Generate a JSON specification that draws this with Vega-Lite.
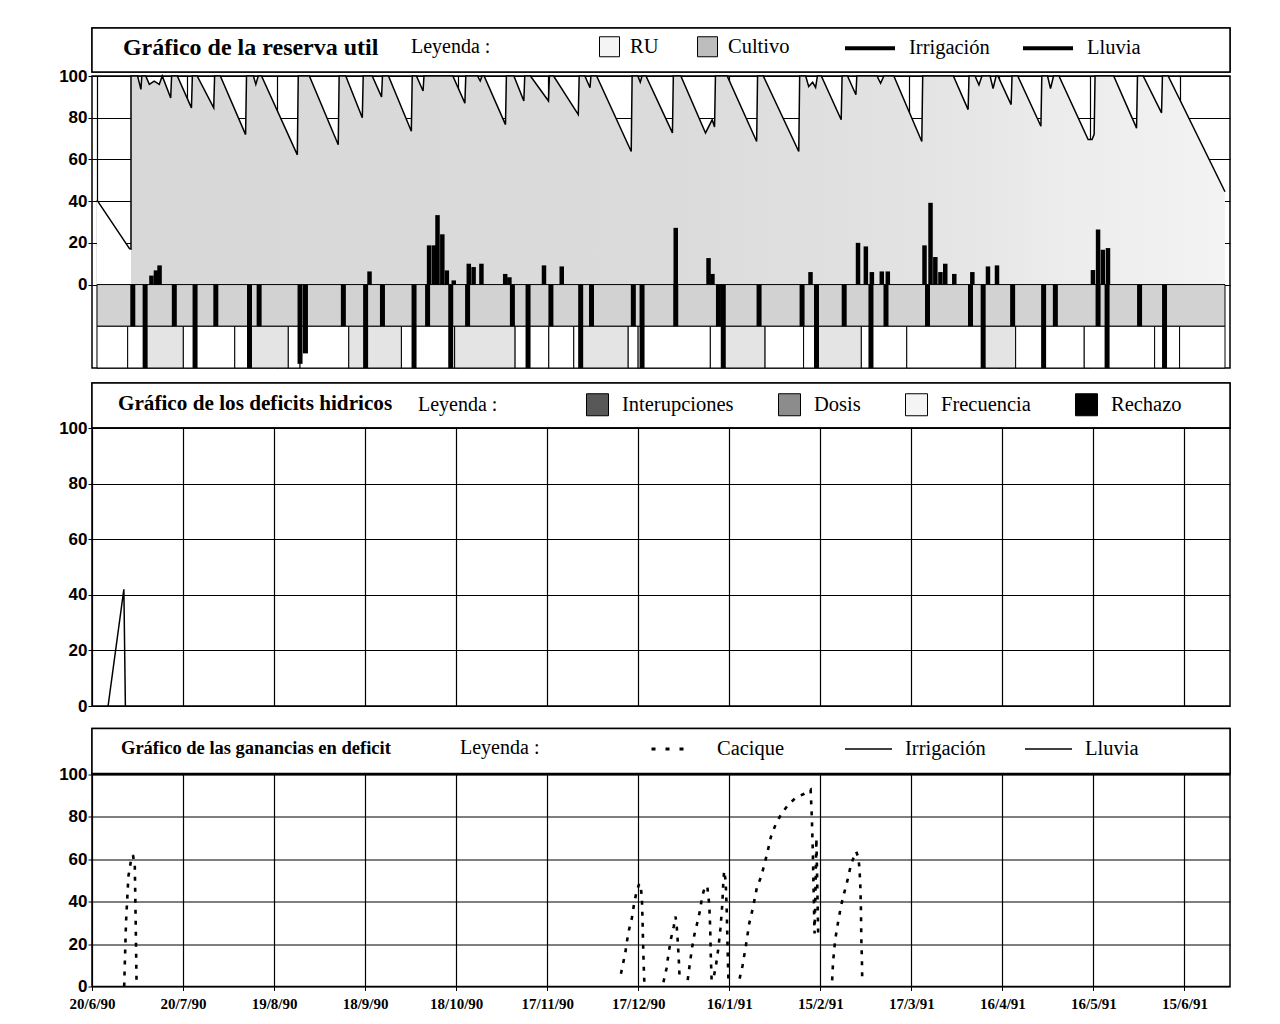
{
  "$schema": "https://vega.github.io/schema/vega-lite/v6.json",
  "background": "white",
  "padding": {"left": 57, "top": 20, "right": 5, "bottom": 5},
  "config": {
    "view": {"stroke": "black", "strokeWidth": 1.5},
    "axis": {"domainColor": "black", "gridColor": "black", "gridOpacity": 1, "gridWidth": 1.2, "tickColor": "black", "labelColor": "black", "labelOverlap": false, "labelFlush": false},
    "legend": {"labelFont": "Liberation Serif", "labelFontSize": 20.5, "labelColor": "black", "titleFont": "Liberation Serif", "titleFontSize": 20, "titleFontWeight": "normal", "titleColor": "black", "labelLimit": 400, "titleLimit": 400}
  },
  "datasets": {
    "ru": [
      {"dia": 0, "ru": 40.5, "fase": "pre"},
      {"dia": 10.8, "ru": 17.2, "fase": "pre"},
      {"dia": 11.3, "ru": 17, "fase": "pre"},
      {"dia": 11.3, "ru": 100, "fase": "cultivo"},
      {"dia": 13.5, "ru": 100, "fase": "cultivo"},
      {"dia": 14.6, "ru": 93.6, "fase": "cultivo"},
      {"dia": 14.9, "ru": 100, "fase": "cultivo"},
      {"dia": 16.2, "ru": 100, "fase": "cultivo"},
      {"dia": 17.4, "ru": 96, "fase": "cultivo"},
      {"dia": 19.0, "ru": 97.5, "fase": "cultivo"},
      {"dia": 20.7, "ru": 96, "fase": "cultivo"},
      {"dia": 21.7, "ru": 100, "fase": "cultivo"},
      {"dia": 24.5, "ru": 89.5, "fase": "cultivo"},
      {"dia": 24.8, "ru": 100, "fase": "cultivo"},
      {"dia": 26.7, "ru": 100, "fase": "cultivo"},
      {"dia": 31.4, "ru": 84.7, "fase": "cultivo"},
      {"dia": 31.7, "ru": 100, "fase": "cultivo"},
      {"dia": 33.3, "ru": 100, "fase": "cultivo"},
      {"dia": 38.8, "ru": 84.7, "fase": "cultivo"},
      {"dia": 39.1, "ru": 100, "fase": "cultivo"},
      {"dia": 41.0, "ru": 100, "fase": "cultivo"},
      {"dia": 49.4, "ru": 71.9, "fase": "cultivo"},
      {"dia": 49.7, "ru": 100, "fase": "cultivo"},
      {"dia": 52.0, "ru": 100, "fase": "cultivo"},
      {"dia": 52.8, "ru": 96, "fase": "cultivo"},
      {"dia": 53.6, "ru": 100, "fase": "cultivo"},
      {"dia": 54.7, "ru": 100, "fase": "cultivo"},
      {"dia": 66.6, "ru": 62.2, "fase": "cultivo"},
      {"dia": 66.9, "ru": 100, "fase": "cultivo"},
      {"dia": 70.6, "ru": 100, "fase": "cultivo"},
      {"dia": 80.2, "ru": 67, "fase": "cultivo"},
      {"dia": 80.5, "ru": 100, "fase": "cultivo"},
      {"dia": 82.7, "ru": 100, "fase": "cultivo"},
      {"dia": 88.2, "ru": 80, "fase": "cultivo"},
      {"dia": 88.5, "ru": 100, "fase": "cultivo"},
      {"dia": 91.5, "ru": 100, "fase": "cultivo"},
      {"dia": 94.6, "ru": 90, "fase": "cultivo"},
      {"dia": 94.9, "ru": 100, "fase": "cultivo"},
      {"dia": 96.9, "ru": 100, "fase": "cultivo"},
      {"dia": 104.5, "ru": 73.5, "fase": "cultivo"},
      {"dia": 104.8, "ru": 100, "fase": "cultivo"},
      {"dia": 106.2, "ru": 100, "fase": "cultivo"},
      {"dia": 108.4, "ru": 92.8, "fase": "cultivo"},
      {"dia": 108.7, "ru": 100, "fase": "cultivo"},
      {"dia": 118.3, "ru": 100, "fase": "cultivo"},
      {"dia": 122.3, "ru": 87, "fase": "cultivo"},
      {"dia": 122.6, "ru": 100, "fase": "cultivo"},
      {"dia": 126.5, "ru": 100, "fase": "cultivo"},
      {"dia": 127.4, "ru": 97.6, "fase": "cultivo"},
      {"dia": 128.0, "ru": 100, "fase": "cultivo"},
      {"dia": 128.7, "ru": 100, "fase": "cultivo"},
      {"dia": 135.8, "ru": 76.7, "fase": "cultivo"},
      {"dia": 136.1, "ru": 100, "fase": "cultivo"},
      {"dia": 138.6, "ru": 100, "fase": "cultivo"},
      {"dia": 141.9, "ru": 88, "fase": "cultivo"},
      {"dia": 142.2, "ru": 100, "fase": "cultivo"},
      {"dia": 144.1, "ru": 100, "fase": "cultivo"},
      {"dia": 150.1, "ru": 88, "fase": "cultivo"},
      {"dia": 150.4, "ru": 100, "fase": "cultivo"},
      {"dia": 151.8, "ru": 100, "fase": "cultivo"},
      {"dia": 160.0, "ru": 81.5, "fase": "cultivo"},
      {"dia": 160.3, "ru": 100, "fase": "cultivo"},
      {"dia": 162.2, "ru": 100, "fase": "cultivo"},
      {"dia": 163.9, "ru": 94.4, "fase": "cultivo"},
      {"dia": 164.2, "ru": 100, "fase": "cultivo"},
      {"dia": 166.1, "ru": 100, "fase": "cultivo"},
      {"dia": 177.6, "ru": 63.8, "fase": "cultivo"},
      {"dia": 177.9, "ru": 100, "fase": "cultivo"},
      {"dia": 179.8, "ru": 100, "fase": "cultivo"},
      {"dia": 180.6, "ru": 97, "fase": "cultivo"},
      {"dia": 181.2, "ru": 100, "fase": "cultivo"},
      {"dia": 182.5, "ru": 100, "fase": "cultivo"},
      {"dia": 191.3, "ru": 72.7, "fase": "cultivo"},
      {"dia": 191.6, "ru": 100, "fase": "cultivo"},
      {"dia": 194.1, "ru": 100, "fase": "cultivo"},
      {"dia": 202.3, "ru": 72.7, "fase": "cultivo"},
      {"dia": 204.5, "ru": 79, "fase": "cultivo"},
      {"dia": 205.3, "ru": 75.5, "fase": "cultivo"},
      {"dia": 205.6, "ru": 100, "fase": "cultivo"},
      {"dia": 209.5, "ru": 100, "fase": "cultivo"},
      {"dia": 219.3, "ru": 68.6, "fase": "cultivo"},
      {"dia": 219.6, "ru": 100, "fase": "cultivo"},
      {"dia": 221.5, "ru": 100, "fase": "cultivo"},
      {"dia": 233.3, "ru": 63.8, "fase": "cultivo"},
      {"dia": 233.6, "ru": 100, "fase": "cultivo"},
      {"dia": 235.6, "ru": 100, "fase": "cultivo"},
      {"dia": 236.6, "ru": 95, "fase": "cultivo"},
      {"dia": 237.9, "ru": 97, "fase": "cultivo"},
      {"dia": 238.9, "ru": 94.5, "fase": "cultivo"},
      {"dia": 239.5, "ru": 100, "fase": "cultivo"},
      {"dia": 240.8, "ru": 100, "fase": "cultivo"},
      {"dia": 247.4, "ru": 79, "fase": "cultivo"},
      {"dia": 247.7, "ru": 100, "fase": "cultivo"},
      {"dia": 249.5, "ru": 100, "fase": "cultivo"},
      {"dia": 252.3, "ru": 91, "fase": "cultivo"},
      {"dia": 252.6, "ru": 100, "fase": "cultivo"},
      {"dia": 259.3, "ru": 100, "fase": "cultivo"},
      {"dia": 260.5, "ru": 96.5, "fase": "cultivo"},
      {"dia": 261.6, "ru": 100, "fase": "cultivo"},
      {"dia": 264.9, "ru": 100, "fase": "cultivo"},
      {"dia": 274.2, "ru": 68.6, "fase": "cultivo"},
      {"dia": 274.5, "ru": 100, "fase": "cultivo"},
      {"dia": 284.7, "ru": 100, "fase": "cultivo"},
      {"dia": 289.6, "ru": 83.9, "fase": "cultivo"},
      {"dia": 289.9, "ru": 100, "fase": "cultivo"},
      {"dia": 291.9, "ru": 100, "fase": "cultivo"},
      {"dia": 293.2, "ru": 95.7, "fase": "cultivo"},
      {"dia": 294.2, "ru": 100, "fase": "cultivo"},
      {"dia": 296.9, "ru": 100, "fase": "cultivo"},
      {"dia": 297.9, "ru": 94, "fase": "cultivo"},
      {"dia": 298.9, "ru": 100, "fase": "cultivo"},
      {"dia": 299.5, "ru": 100, "fase": "cultivo"},
      {"dia": 303.9, "ru": 86.3, "fase": "cultivo"},
      {"dia": 304.2, "ru": 100, "fase": "cultivo"},
      {"dia": 306.1, "ru": 100, "fase": "cultivo"},
      {"dia": 313.8, "ru": 75.9, "fase": "cultivo"},
      {"dia": 314.1, "ru": 100, "fase": "cultivo"},
      {"dia": 316.0, "ru": 100, "fase": "cultivo"},
      {"dia": 317.0, "ru": 94, "fase": "cultivo"},
      {"dia": 318.0, "ru": 100, "fase": "cultivo"},
      {"dia": 319.8, "ru": 100, "fase": "cultivo"},
      {"dia": 329.5, "ru": 69.5, "fase": "cultivo"},
      {"dia": 330.8, "ru": 69.5, "fase": "cultivo"},
      {"dia": 331.5, "ru": 72, "fase": "cultivo"},
      {"dia": 331.8, "ru": 100, "fase": "cultivo"},
      {"dia": 338.0, "ru": 100, "fase": "cultivo"},
      {"dia": 345.6, "ru": 75, "fase": "cultivo"},
      {"dia": 345.9, "ru": 100, "fase": "cultivo"},
      {"dia": 347.8, "ru": 100, "fase": "cultivo"},
      {"dia": 353.9, "ru": 82.3, "fase": "cultivo"},
      {"dia": 354.2, "ru": 100, "fase": "cultivo"},
      {"dia": 356.1, "ru": 100, "fase": "cultivo"},
      {"dia": 375, "ru": 44.5, "fase": "cultivo"}
    ],
    "lluvia": [
      {"dia": 18.1, "mm": 4.3}, {"dia": 19.6, "mm": 6.8}, {"dia": 20.8, "mm": 9.2},
      {"dia": 90.6, "mm": 6.3},
      {"dia": 110.4, "mm": 18.8}, {"dia": 112.0, "mm": 18.8}, {"dia": 113.2, "mm": 33.3}, {"dia": 114.8, "mm": 24.1}, {"dia": 116.3, "mm": 6.8}, {"dia": 118.6, "mm": 2},
      {"dia": 123.6, "mm": 10}, {"dia": 125.2, "mm": 8.4}, {"dia": 127.8, "mm": 10},
      {"dia": 135.7, "mm": 5.1}, {"dia": 137.1, "mm": 3.5},
      {"dia": 148.6, "mm": 9.2}, {"dia": 154.5, "mm": 8.7},
      {"dia": 192.4, "mm": 27.2}, {"dia": 203.3, "mm": 12.7}, {"dia": 204.6, "mm": 5.1},
      {"dia": 237.2, "mm": 6},
      {"dia": 253.0, "mm": 20}, {"dia": 255.6, "mm": 18.3}, {"dia": 257.6, "mm": 6}, {"dia": 260.9, "mm": 6.3}, {"dia": 262.9, "mm": 6.3},
      {"dia": 275.1, "mm": 18.8}, {"dia": 277.1, "mm": 39.2}, {"dia": 278.7, "mm": 13.2}, {"dia": 280.4, "mm": 6}, {"dia": 282.0, "mm": 10}, {"dia": 285.0, "mm": 5.1},
      {"dia": 291.0, "mm": 6}, {"dia": 296.2, "mm": 8.7}, {"dia": 299.2, "mm": 9.2},
      {"dia": 331.1, "mm": 7}, {"dia": 332.8, "mm": 26.4}, {"dia": 334.4, "mm": 16.7}, {"dia": 336.1, "mm": 17.5}
    ],
    "riego": [
      {"dia": 11.9, "nivel": -20}, {"dia": 16.0, "nivel": -40}, {"dia": 25.7, "nivel": -20}, {"dia": 32.6, "nivel": -40},
      {"dia": 39.5, "nivel": -20}, {"dia": 50.7, "nivel": -40}, {"dia": 53.9, "nivel": -20}, {"dia": 67.5, "nivel": -38},
      {"dia": 69.3, "nivel": -33}, {"dia": 81.9, "nivel": -20}, {"dia": 89.3, "nivel": -40}, {"dia": 94.9, "nivel": -20},
      {"dia": 105.4, "nivel": -40}, {"dia": 109.9, "nivel": -20}, {"dia": 117.6, "nivel": -40}, {"dia": 123.2, "nivel": -20},
      {"dia": 138.1, "nivel": -20}, {"dia": 143.3, "nivel": -40}, {"dia": 150.9, "nivel": -20}, {"dia": 160.8, "nivel": -40},
      {"dia": 164.4, "nivel": -20}, {"dia": 178.3, "nivel": -20}, {"dia": 181.2, "nivel": -40}, {"dia": 192.4, "nivel": -20},
      {"dia": 206.6, "nivel": -20}, {"dia": 208.2, "nivel": -40}, {"dia": 220.1, "nivel": -20}, {"dia": 234.4, "nivel": -20},
      {"dia": 239.2, "nivel": -40}, {"dia": 248.4, "nivel": -20}, {"dia": 257.3, "nivel": -40}, {"dia": 262.3, "nivel": -20},
      {"dia": 276.1, "nivel": -20}, {"dia": 290.4, "nivel": -20}, {"dia": 294.6, "nivel": -40}, {"dia": 304.4, "nivel": -20},
      {"dia": 314.7, "nivel": -40}, {"dia": 318.6, "nivel": -20}, {"dia": 332.8, "nivel": -20}, {"dia": 335.8, "nivel": -40},
      {"dia": 346.6, "nivel": -20}, {"dia": 354.9, "nivel": -40}
    ],
    "franja": [{"desde": 0, "hasta": 375}],
    "tramos": [
      {"desde": 0, "hasta": 10.2, "tipo": "b"}, {"desde": 10.2, "hasta": 16.0, "tipo": "b"}, {"desde": 16.0, "hasta": 28.7, "tipo": "p"},
      {"desde": 28.7, "hasta": 32.6, "tipo": "b"}, {"desde": 32.6, "hasta": 45.8, "tipo": "b"}, {"desde": 45.8, "hasta": 50.7, "tipo": "b"},
      {"desde": 50.7, "hasta": 63.6, "tipo": "p"}, {"desde": 63.6, "hasta": 67.5, "tipo": "b"}, {"desde": 67.5, "hasta": 83.7, "tipo": "b"},
      {"desde": 83.7, "hasta": 89.3, "tipo": "p"}, {"desde": 89.3, "hasta": 101.2, "tipo": "p"}, {"desde": 101.2, "hasta": 105.4, "tipo": "b"},
      {"desde": 105.4, "hasta": 117.6, "tipo": "b"}, {"desde": 117.6, "hasta": 118.9, "tipo": "b"}, {"desde": 118.9, "hasta": 139.0, "tipo": "p"},
      {"desde": 139.0, "hasta": 143.3, "tipo": "b"}, {"desde": 143.3, "hasta": 150.2, "tipo": "b"}, {"desde": 150.2, "hasta": 158.5, "tipo": "b"},
      {"desde": 158.5, "hasta": 160.8, "tipo": "b"}, {"desde": 160.8, "hasta": 176.6, "tipo": "p"}, {"desde": 176.6, "hasta": 179.9, "tipo": "b"},
      {"desde": 179.9, "hasta": 181.2, "tipo": "b"}, {"desde": 181.2, "hasta": 203.9, "tipo": "b"}, {"desde": 203.9, "hasta": 208.2, "tipo": "b"},
      {"desde": 208.2, "hasta": 222.1, "tipo": "p"}, {"desde": 222.1, "hasta": 234.9, "tipo": "b"}, {"desde": 234.9, "hasta": 239.2, "tipo": "b"},
      {"desde": 239.2, "hasta": 254.1, "tipo": "p"}, {"desde": 254.1, "hasta": 257.3, "tipo": "b"}, {"desde": 257.3, "hasta": 269.2, "tipo": "b"},
      {"desde": 269.2, "hasta": 294.6, "tipo": "b"}, {"desde": 294.6, "hasta": 305.4, "tipo": "p"}, {"desde": 305.4, "hasta": 314.7, "tipo": "b"},
      {"desde": 314.7, "hasta": 328.2, "tipo": "b"}, {"desde": 328.2, "hasta": 335.8, "tipo": "b"}, {"desde": 335.8, "hasta": 351.6, "tipo": "b"},
      {"desde": 351.6, "hasta": 354.9, "tipo": "b"}, {"desde": 354.9, "hasta": 359.9, "tipo": "b"}, {"desde": 359.9, "hasta": 375, "tipo": "b"}
    ],
    "deficit": [
      {"dia": 5.3, "valor": 0}, {"dia": 10.5, "valor": 42}, {"dia": 11.0, "valor": 0}
    ],
    "ganancia": [
      {"dia": 10.6, "valor": 0, "tramo": 1}, {"dia": 11.2, "valor": 30, "tramo": 1}, {"dia": 12.0, "valor": 52, "tramo": 1}, {"dia": 12.8, "valor": 59, "tramo": 1},
      {"dia": 13.5, "valor": 62, "tramo": 1}, {"dia": 14.1, "valor": 57, "tramo": 1}, {"dia": 14.4, "valor": 30, "tramo": 1}, {"dia": 14.7, "valor": 0, "tramo": 1},
      {"dia": 174.3, "valor": 6, "tramo": 2}, {"dia": 175.7, "valor": 15.6, "tramo": 2}, {"dia": 176.7, "valor": 25.2, "tramo": 2}, {"dia": 177.9, "valor": 32.3, "tramo": 2},
      {"dia": 178.6, "valor": 38.7, "tramo": 2}, {"dia": 179.3, "valor": 43.8, "tramo": 2}, {"dia": 180.2, "valor": 48, "tramo": 2}, {"dia": 180.7, "valor": 48.5, "tramo": 2},
      {"dia": 181.2, "valor": 42, "tramo": 2}, {"dia": 181.4, "valor": 32, "tramo": 2}, {"dia": 181.6, "valor": 20, "tramo": 2}, {"dia": 181.8, "valor": 10, "tramo": 2},
      {"dia": 182.0, "valor": 2, "tramo": 2},
      {"dia": 188.3, "valor": 2, "tramo": 3}, {"dia": 189.3, "valor": 8.4, "tramo": 3}, {"dia": 190.0, "valor": 15.6, "tramo": 3}, {"dia": 190.7, "valor": 22, "tramo": 3},
      {"dia": 191.7, "valor": 28.3, "tramo": 3}, {"dia": 192.3, "valor": 33, "tramo": 3}, {"dia": 192.7, "valor": 28, "tramo": 3}, {"dia": 193.1, "valor": 19.6, "tramo": 3},
      {"dia": 193.4, "valor": 11.6, "tramo": 3}, {"dia": 193.6, "valor": 5, "tramo": 3},
      {"dia": 196.3, "valor": 3, "tramo": 4}, {"dia": 197.0, "valor": 10.8, "tramo": 4}, {"dia": 197.8, "valor": 18.8, "tramo": 4}, {"dia": 198.5, "valor": 24.4, "tramo": 4},
      {"dia": 199.3, "valor": 29.1, "tramo": 4}, {"dia": 200.3, "valor": 35.5, "tramo": 4}, {"dia": 201.1, "valor": 42.7, "tramo": 4}, {"dia": 202.1, "valor": 47.5, "tramo": 4},
      {"dia": 202.8, "valor": 46.7, "tramo": 4}, {"dia": 203.4, "valor": 38.7, "tramo": 4}, {"dia": 203.7, "valor": 28, "tramo": 4}, {"dia": 203.9, "valor": 15, "tramo": 4},
      {"dia": 204.2, "valor": 2, "tramo": 4},
      {"dia": 205.0, "valor": 5.3, "tramo": 5}, {"dia": 205.7, "valor": 10.8, "tramo": 5}, {"dia": 206.4, "valor": 18, "tramo": 5}, {"dia": 207.1, "valor": 27.5, "tramo": 5},
      {"dia": 207.7, "valor": 38.7, "tramo": 5}, {"dia": 208.0, "valor": 48.2, "tramo": 5}, {"dia": 208.3, "valor": 54.6, "tramo": 5}, {"dia": 208.8, "valor": 50, "tramo": 5},
      {"dia": 209.1, "valor": 38.7, "tramo": 5}, {"dia": 209.3, "valor": 27.5, "tramo": 5}, {"dia": 209.5, "valor": 15, "tramo": 5}, {"dia": 209.7, "valor": 3.7, "tramo": 5},
      {"dia": 213.4, "valor": 3.7, "tramo": 6}, {"dia": 214.4, "valor": 10, "tramo": 6}, {"dia": 215.5, "valor": 19.6, "tramo": 6}, {"dia": 216.6, "valor": 29.9, "tramo": 6},
      {"dia": 217.8, "valor": 37.1, "tramo": 6}, {"dia": 219.1, "valor": 46.7, "tramo": 6}, {"dia": 220.5, "valor": 51.8, "tramo": 6}, {"dia": 221.6, "valor": 57.8, "tramo": 6},
      {"dia": 222.6, "valor": 63.4, "tramo": 6}, {"dia": 223.7, "valor": 70.5, "tramo": 6}, {"dia": 225.4, "valor": 76.9, "tramo": 6}, {"dia": 227.3, "valor": 81.7, "tramo": 6},
      {"dia": 229.4, "valor": 85.7, "tramo": 6}, {"dia": 231.8, "valor": 88.9, "tramo": 6}, {"dia": 234.7, "valor": 90.9, "tramo": 6}, {"dia": 236.8, "valor": 92.8, "tramo": 6},
      {"dia": 237.2, "valor": 80, "tramo": 6}, {"dia": 237.5, "valor": 65, "tramo": 6}, {"dia": 237.8, "valor": 45, "tramo": 6}, {"dia": 238.1, "valor": 25, "tramo": 6},
      {"dia": 238.4, "valor": 45, "tramo": 6}, {"dia": 238.7, "valor": 70, "tramo": 6}, {"dia": 239.0, "valor": 48, "tramo": 6}, {"dia": 239.3, "valor": 24, "tramo": 6},
      {"dia": 243.9, "valor": 2.9, "tramo": 7}, {"dia": 244.2, "valor": 11.6, "tramo": 7}, {"dia": 244.9, "valor": 22, "tramo": 7}, {"dia": 245.8, "valor": 29.9, "tramo": 7},
      {"dia": 246.8, "valor": 37.9, "tramo": 7}, {"dia": 247.9, "valor": 44.3, "tramo": 7}, {"dia": 248.9, "valor": 49.8, "tramo": 7}, {"dia": 249.9, "valor": 56.2, "tramo": 7},
      {"dia": 250.8, "valor": 60.2, "tramo": 7}, {"dia": 251.8, "valor": 63.7, "tramo": 7}, {"dia": 252.5, "valor": 61, "tramo": 7}, {"dia": 252.9, "valor": 56, "tramo": 7},
      {"dia": 253.2, "valor": 46.7, "tramo": 7}, {"dia": 253.4, "valor": 35.5, "tramo": 7}, {"dia": 253.5, "valor": 22.8, "tramo": 7}, {"dia": 253.7, "valor": 13.2, "tramo": 7},
      {"dia": 253.8, "valor": 4, "tramo": 7}
    ]
  },
  "spacing": 8.5,
  "resolve": {"scale": {"fill": "independent", "stroke": "independent", "strokeDash": "independent", "x": "independent", "y": "independent"}, "legend": {"fill": "independent", "stroke": "independent", "strokeDash": "independent"}},
  "vconcat": [
    {
      "spacing": 11,
      "resolve": {"scale": {"fill": "independent", "stroke": "independent", "x": "independent", "y": "independent"}, "legend": {"fill": "independent", "stroke": "independent"}},
      "vconcat": [
        {
          "bounds": "flush",
          "spacing": 4,
          "resolve": {"scale": {"fill": "independent", "stroke": "independent", "x": "independent", "y": "independent"}, "legend": {"fill": "independent", "stroke": "independent"}},
          "vconcat": [
            {
              "width": 1138, "height": 44,
              "data": {"values": [{"titulo": "Gráfico de la reserva util"}]},
              "layer": [
                {"mark": {"type": "rect", "fill": "white", "stroke": "black", "strokeWidth": 1.5},
                 "encoding": {
                   "x": {"datum": 0, "type": "quantitative", "scale": {"domain": [0, 1], "nice": false, "zero": false}, "axis": null},
                   "x2": {"datum": 1},
                   "y": {"datum": 0, "type": "quantitative", "scale": {"domain": [0, 1], "nice": false, "zero": false}, "axis": null},
                   "y2": {"datum": 1}}},
                {"mark": {"type": "text", "align": "left", "baseline": "middle", "font": "Liberation Serif", "fontWeight": "bold", "fontSize": 24, "color": "black"},
                 "encoding": {
                   "text": {"field": "titulo"},
                   "x": {"datum": 0.0272, "type": "quantitative"},
                   "y": {"datum": 0.545, "type": "quantitative"}}},
                {"transform": [{"filter": "false"}],
                 "mark": {"type": "square", "filled": true, "opacity": 1},
                 "encoding": {"fill": {"field": "serie", "type": "nominal",
                   "scale": {"domain": ["RU", "Cultivo"], "range": ["#f4f4f4", "#bdbdbd"]},
                   "legend": {"title": "Leyenda :", "orient": "none", "legendX": 319, "legendY": 8, "direction": "horizontal", "titleOrient": "left", "titlePadding": 108, "symbolType": "square", "symbolSize": 400, "symbolOpacity": 1, "symbolStrokeColor": "black", "symbolStrokeWidth": 1, "labelOffset": 10, "columnPadding": 36}}}},
                {"transform": [{"filter": "false"}],
                 "mark": {"type": "rule", "opacity": 1},
                 "encoding": {"stroke": {"field": "aporte", "type": "nominal",
                   "scale": {"domain": ["Irrigación", "Lluvia"], "range": ["black", "black"]},
                   "legend": {"title": null, "orient": "none", "legendX": 751, "legendY": -7, "direction": "horizontal", "symbolType": "stroke", "symbolSize": 2500, "symbolStrokeWidth": 4, "labelOffset": 12, "columnPadding": 25}}}}
              ]
            },
            {
              "width": 1138, "height": 292,
              "layer": [
                {"data": {"name": "ru"}, "transform": [{"filter": "datum.fase == 'pre'"}],
                 "mark": {"type": "area", "color": "white", "opacity": 1},
                 "encoding": {
                   "x": {"field": "dia", "type": "quantitative", "scale": {"domain": [0, 375], "nice": false, "zero": false},
                         "axis": {"values": [0, 30, 60, 90, 120, 150, 180, 210, 240, 270, 300, 330, 360], "labels": false, "ticks": false, "domain": false, "grid": true, "title": null}},
                   "y": {"field": "ru", "type": "quantitative", "scale": {"domain": [-40, 100], "nice": false},
                         "axis": {"values": [0, 20, 40, 60, 80, 100], "grid": true, "domain": false, "title": null, "tickSize": 4, "labelPadding": 1, "labelFont": "Liberation Sans", "labelFontWeight": "bold", "labelFontSize": 17}},
                   "y2": {"datum": 0},
                   "order": {"value": null}}},
                {"data": {"name": "ru"}, "transform": [{"filter": "datum.fase == 'cultivo'"}],
                 "mark": {"type": "area", "opacity": 1, "color": {"gradient": "linear", "x1": 0, "y1": 0, "x2": 1, "y2": 0,
                   "stops": [{"offset": 0, "color": "#d8d8d8"}, {"offset": 0.5, "color": "#dbdbdb"}, {"offset": 0.72, "color": "#e3e3e3"}, {"offset": 0.85, "color": "#ececec"}, {"offset": 1, "color": "#f3f3f3"}]}},
                 "encoding": {
                   "x": {"field": "dia", "type": "quantitative", "scale": {"domain": [0, 375], "nice": false, "zero": false}},
                   "y": {"field": "ru", "type": "quantitative", "scale": {"domain": [-40, 100], "nice": false}},
                   "y2": {"datum": 0},
                   "order": {"value": null}}},
                {"data": {"name": "ru"},
                 "mark": {"type": "line", "color": "black", "strokeWidth": 1.5},
                 "encoding": {
                   "x": {"field": "dia", "type": "quantitative"},
                   "y": {"field": "ru", "type": "quantitative"},
                   "order": {"value": null}}},
                {"data": {"name": "franja"},
                 "mark": {"type": "rect", "fill": "#d2d2d2", "stroke": "black", "strokeWidth": 1},
                 "encoding": {
                   "x": {"field": "desde", "type": "quantitative"},
                   "x2": {"field": "hasta"},
                   "y": {"datum": 0},
                   "y2": {"datum": -20}}},
                {"data": {"name": "tramos"},
                 "mark": {"type": "rect", "stroke": "black", "strokeWidth": 1},
                 "encoding": {
                   "x": {"field": "desde", "type": "quantitative"},
                   "x2": {"field": "hasta"},
                   "y": {"datum": -20},
                   "y2": {"datum": -40},
                   "fill": {"condition": {"test": "datum.tipo == 'p'", "value": "#e4e4e4"}, "value": "white"}}},
                {"data": {"name": "lluvia"},
                 "mark": {"type": "bar", "color": "black", "width": 4.5},
                 "encoding": {
                   "x": {"field": "dia", "type": "quantitative"},
                   "y": {"field": "mm", "type": "quantitative"}}},
                {"data": {"name": "riego"},
                 "mark": {"type": "bar", "color": "black", "width": 5},
                 "encoding": {
                   "x": {"field": "dia", "type": "quantitative"},
                   "y": {"field": "nivel", "type": "quantitative"}}}
              ]
            }
          ]
        },
        {
          "bounds": "flush",
          "spacing": 0,
          "resolve": {"scale": {"fill": "independent", "x": "independent", "y": "independent"}, "legend": {"fill": "independent"}},
          "vconcat": [
            {
              "width": 1138, "height": 45,
              "data": {"values": [{"titulo": "Gráfico de los deficits hidricos"}]},
              "layer": [
                {"mark": {"type": "rect", "fill": "white", "stroke": "black", "strokeWidth": 1.5},
                 "encoding": {
                   "x": {"datum": 0, "type": "quantitative", "scale": {"domain": [0, 1], "nice": false, "zero": false}, "axis": null},
                   "x2": {"datum": 1},
                   "y": {"datum": 0, "type": "quantitative", "scale": {"domain": [0, 1], "nice": false, "zero": false}, "axis": null},
                   "y2": {"datum": 1}}},
                {"mark": {"type": "text", "align": "left", "baseline": "middle", "font": "Liberation Serif", "fontWeight": "bold", "fontSize": 21.2, "color": "black"},
                 "encoding": {
                   "text": {"field": "titulo"},
                   "x": {"datum": 0.0228, "type": "quantitative"},
                   "y": {"datum": 0.533, "type": "quantitative"}}},
                {"transform": [{"filter": "false"}],
                 "mark": {"type": "square", "filled": true, "opacity": 1},
                 "encoding": {"fill": {"field": "deficit", "type": "nominal",
                   "scale": {"domain": ["Interupciones", "Dosis", "Frecuencia", "Rechazo"], "range": ["#585858", "#8c8c8c", "#f4f4f4", "black"]},
                   "legend": {"title": "Leyenda :", "orient": "none", "legendX": 326, "legendY": 10, "direction": "horizontal", "titleOrient": "left", "titlePadding": 88, "symbolType": "square", "symbolSize": 484, "symbolOpacity": 1, "symbolStrokeColor": "black", "symbolStrokeWidth": 1, "labelOffset": 13, "columnPadding": 42}}}}
              ]
            },
            {
              "width": 1138, "height": 278,
              "data": {"name": "deficit"},
              "mark": {"type": "line", "color": "black", "strokeWidth": 1.5},
              "encoding": {
                "x": {"field": "dia", "type": "quantitative", "scale": {"domain": [0, 375], "nice": false, "zero": false},
                      "axis": {"values": [0, 30, 60, 90, 120, 150, 180, 210, 240, 270, 300, 330, 360], "labels": false, "ticks": false, "domain": false, "grid": true, "title": null}},
                "y": {"field": "valor", "type": "quantitative", "scale": {"domain": [0, 100], "nice": false},
                      "axis": {"values": [0, 20, 40, 60, 80, 100], "grid": true, "domain": false, "title": null, "tickSize": 4, "labelPadding": 1, "labelFont": "Liberation Sans", "labelFontWeight": "bold", "labelFontSize": 17}},
                "order": {"value": null}}
            }
          ]
        }
      ]
    },
    {
      "bounds": "flush",
      "spacing": 1,
      "resolve": {"scale": {"stroke": "independent", "strokeDash": "independent", "x": "independent", "y": "independent"}, "legend": {"stroke": "independent", "strokeDash": "independent"}},
      "vconcat": [
        {
          "width": 1138, "height": 45,
          "data": {"values": [{"titulo": "Gráfico de las ganancias en deficit", "leyenda": "Leyenda :"}]},
          "layer": [
            {"mark": {"type": "rect", "fill": "white", "stroke": "black", "strokeWidth": 1.5},
             "encoding": {
               "x": {"datum": 0, "type": "quantitative", "scale": {"domain": [0, 1], "nice": false, "zero": false}, "axis": null},
               "x2": {"datum": 1},
               "y": {"datum": 0, "type": "quantitative", "scale": {"domain": [0, 1], "nice": false, "zero": false}, "axis": null},
               "y2": {"datum": 1}}},
            {"mark": {"type": "text", "align": "left", "baseline": "middle", "font": "Liberation Serif", "fontWeight": "bold", "fontSize": 18.5, "color": "black"},
             "encoding": {
               "text": {"field": "titulo"},
               "x": {"datum": 0.0255, "type": "quantitative"},
               "y": {"datum": 0.556, "type": "quantitative"}}},
            {"mark": {"type": "text", "align": "left", "baseline": "middle", "font": "Liberation Serif", "fontWeight": "normal", "fontSize": 20, "color": "black"},
             "encoding": {
               "text": {"field": "leyenda"},
               "x": {"datum": 0.3234, "type": "quantitative"},
               "y": {"datum": 0.556, "type": "quantitative"}}},
            {"transform": [{"filter": "false"}],
             "mark": {"type": "rule", "opacity": 1},
             "encoding": {"strokeDash": {"field": "serie", "type": "nominal",
               "scale": {"domain": ["Cacique"], "range": [[4, 10]]},
               "legend": {"title": null, "orient": "none", "legendX": 558, "legendY": -1, "direction": "horizontal", "symbolType": "stroke", "symbolSize": 1600, "symbolStrokeWidth": 3, "symbolStrokeColor": "black", "labelOffset": 24}}}},
            {"transform": [{"filter": "false"}],
             "mark": {"type": "rule", "opacity": 1},
             "encoding": {"stroke": {"field": "aporte", "type": "nominal",
               "scale": {"domain": ["Irrigación", "Lluvia"], "range": ["black", "black"]},
               "legend": {"title": null, "orient": "none", "legendX": 752, "legendY": -4, "direction": "horizontal", "symbolType": "stroke", "symbolSize": 2209, "symbolStrokeWidth": 1.5, "labelOffset": 12, "columnPadding": 36}}}}
          ]
        },
        {
          "width": 1138, "height": 212,
          "data": {"name": "ganancia"},
          "mark": {"type": "line", "color": "black", "strokeWidth": 2.6, "strokeDash": [4, 7]},
          "encoding": {
            "x": {"field": "dia", "type": "quantitative", "scale": {"domain": [0, 375], "nice": false, "zero": false},
                  "axis": {"values": [0, 30, 60, 90, 120, 150, 180, 210, 240, 270, 300, 330, 360], "grid": true, "domain": false, "title": null, "tickSize": 4, "labelPadding": 6,
                           "labelExpr": "timeFormat(datetime(1990, 5, 20 + datum.value), '%-d/%-m/%y')",
                           "labelFont": "Liberation Serif", "labelFontWeight": "bold", "labelFontSize": 15}},
            "y": {"field": "valor", "type": "quantitative", "scale": {"domain": [0, 100], "nice": false},
                  "axis": {"values": [0, 20, 40, 60, 80, 100], "grid": true, "domain": false, "title": null, "tickSize": 4, "labelPadding": 1, "labelFont": "Liberation Sans", "labelFontWeight": "bold", "labelFontSize": 17}},
            "detail": {"field": "tramo", "type": "nominal"},
            "order": {"value": null}}
        }
      ]
    }
  ]
}
